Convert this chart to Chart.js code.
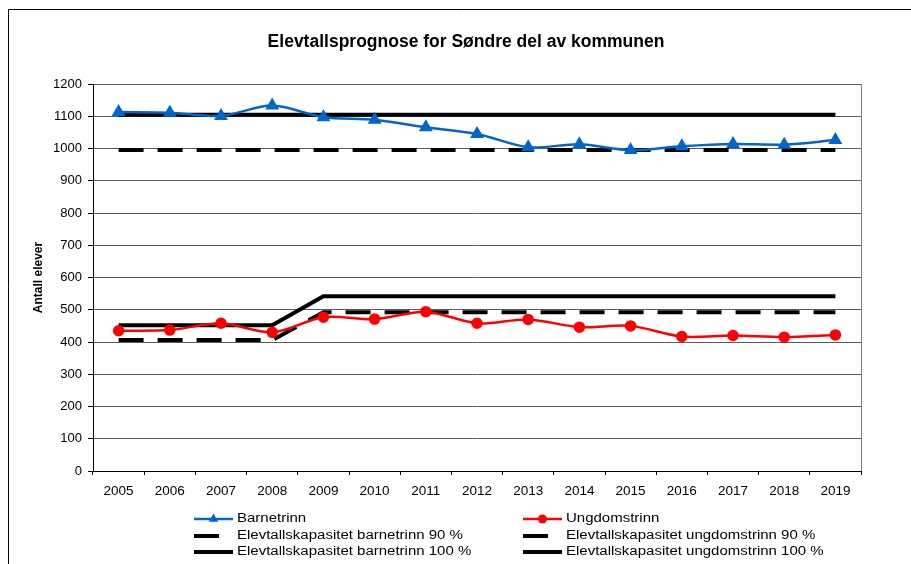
<!DOCTYPE html>
<html>
<head>
<meta charset="utf-8">
<script src="https://cdn.jsdelivr.net/npm/chart.js@4.4.0/dist/chart.umd.min.js"></script>
<style>
  html, body { margin: 0; padding: 0; background: #fff; overflow: hidden; }
</style>
</head>
<body>
<canvas id="myChart" width="911" height="564"></canvas>
<script>
const title = 'Elevtallsprognose for Søndre del av kommunen';
const years = ['2005', '2006', '2007', '2008', '2009', '2010', '2011', '2012', '2013', '2014', '2015', '2016', '2017', '2018', '2019'];
const barnetrinn = [1113, 1111, 1101, 1133, 1097, 1089, 1066, 1045, 1004, 1013, 995, 1007, 1014, 1012, 1026];
const ungdomstrinn = [435, 437, 458, 430, 477, 471, 494, 458, 470, 446, 450, 417, 420, 415, 422];
const kapBarn90 = [995, 995, 995, 995, 995, 995, 995, 995, 995, 995, 995, 995, 995, 995, 995];
const kapUng90 = [406, 406, 406, 406, 492, 492, 492, 492, 492, 492, 492, 492, 492, 492, 492];
const kapBarn100 = [1105, 1105, 1105, 1105, 1105, 1105, 1105, 1105, 1105, 1105, 1105, 1105, 1105, 1105, 1105];
const kapUng100 = [452, 452, 452, 452, 542, 542, 542, 542, 542, 542, 542, 542, 542, 542, 542];

const FONT = "'Liberation Sans', Arial, sans-serif";
const dash = [25, 14];

// frame round the whole chart, the title, and the right border of the plot
const framePlugin = {
  id: 'frame',
  beforeDraw(chart) {
    const { ctx } = chart;
    ctx.save();
    ctx.fillStyle = '#fff';
    ctx.fillRect(0, 0, chart.width, chart.height);
    ctx.strokeStyle = '#000';
    ctx.lineWidth = 1;
    ctx.beginPath();
    ctx.moveTo(8.5, chart.height);
    ctx.lineTo(8.5, 9.5);
    ctx.lineTo(chart.width, 9.5);
    ctx.stroke();
    ctx.fillStyle = '#000';
    ctx.font = `bold 17.5px ${FONT}`;
    ctx.textAlign = 'center';
    ctx.textBaseline = 'middle';
    ctx.fillText(title, 466, 42);
    ctx.restore();
  },
  afterDraw(chart) {
    const { ctx, chartArea: a } = chart;
    ctx.save();
    ctx.strokeStyle = '#808080';
    ctx.lineWidth = 1;
    ctx.beginPath();
    ctx.moveTo(Math.round(a.right) + 0.5, a.top);
    ctx.lineTo(Math.round(a.right) + 0.5, a.bottom);
    ctx.stroke();
    ctx.restore();
  },
};

// two-column legend under the plot, like the Excel one
const legendPlugin = {
  id: 'twoColLegend',
  afterDraw(chart) {
    const { ctx, chartArea: a } = chart;
    const cols = [194, 523];
    const rows = [a.bottom + 48, a.bottom + 65, a.bottom + 81];
    chart.data.datasets.forEach((ds, i) => {
      const x = cols[i % 2];
      const y = rows[Math.floor(i / 2)];
      ctx.save();
      ctx.strokeStyle = ds.borderColor;
      ctx.lineWidth = ds.borderWidth;
      ctx.setLineDash(ds.borderDash || []);
      ctx.beginPath();
      ctx.moveTo(x, y);
      ctx.lineTo(x + 39, y);
      ctx.stroke();
      ctx.setLineDash([]);
      if (ds.pointRadius) {
        ctx.fillStyle = ds.pointBackgroundColor;
        ctx.strokeStyle = ds.pointBorderColor;
        ctx.lineWidth = 1;
        Chart.helpers.drawPoint(ctx, { pointStyle: ds.pointStyle, radius: ds.pointRadius, rotation: 0 }, x + 19.5, y);
      }
      ctx.translate(x + 43, y);
      ctx.scale(1.25, 1);
      ctx.fillStyle = '#000';
      ctx.font = `12px ${FONT}`;
      ctx.textBaseline = 'middle';
      ctx.fillText(ds.label, 0, 0);
      ctx.restore();
    });
  },
};

const ctx = document.getElementById('myChart').getContext('2d');
new Chart(ctx, {
  type: 'line',
  data: {
    labels: years,
    datasets: [
      {
        label: 'Barnetrinn',
        data: barnetrinn,
        borderColor: '#0066CC',
        backgroundColor: '#0066CC',
        pointBackgroundColor: '#0066CC',
        pointBorderColor: '#0066CC',
        borderWidth: 2.5,
        pointStyle: 'triangle',
        pointRadius: 5.5,
        tension: 0.3,
      },
      {
        label: 'Ungdomstrinn',
        data: ungdomstrinn,
        borderColor: '#FF0000',
        backgroundColor: '#FF0000',
        pointBackgroundColor: '#FF0000',
        pointBorderColor: '#FF0000',
        borderWidth: 2.5,
        pointStyle: 'circle',
        pointRadius: 4.5,
        tension: 0.3,
      },
      {
        label: 'Elevtallskapasitet barnetrinn 90 %',
        data: kapBarn90,
        borderColor: '#000',
        borderWidth: 4,
        borderDash: dash,
        pointRadius: 0,
      },
      {
        label: 'Elevtallskapasitet ungdomstrinn 90 %',
        data: kapUng90,
        borderColor: '#000',
        borderWidth: 4,
        borderDash: dash,
        pointRadius: 0,
      },
      {
        label: 'Elevtallskapasitet barnetrinn 100 %',
        data: kapBarn100,
        borderColor: '#000',
        borderWidth: 4,
        pointRadius: 0,
      },
      {
        label: 'Elevtallskapasitet ungdomstrinn 100 %',
        data: kapUng100,
        borderColor: '#000',
        borderWidth: 4,
        pointRadius: 0,
      },
    ],
  },
  options: {
    responsive: false,
    animation: false,
    devicePixelRatio: 1,
    layout: { padding: { left: 28, right: 50, top: 84, bottom: 0 } },
    plugins: {
      legend: { display: false },
      tooltip: { enabled: false },
      title: { display: false },
    },
    scales: {
      x: {
        offset: true,
        afterFit(s) { s.height = 93; },
        grid: { offset: true, drawOnChartArea: false, color: '#000', tickLength: 4 },
        border: { color: '#000', width: 1 },
        ticks: { color: '#000', font: { family: FONT, size: 13.5 }, padding: 8, maxRotation: 0, autoSkip: false },
      },
      y: {
        min: 0,
        max: 1200,
        afterFit(s) { s.width = 65; },
        grid: { color: '#5a5a5a', tickColor: '#000', tickLength: 5 },
        border: { color: '#000', width: 1 },
        ticks: { stepSize: 100, color: '#000', font: { family: FONT, size: 13 }, padding: 6, callback: v => String(v) },
        title: {
          display: true,
          text: 'Antall elever',
          color: '#000',
          font: { family: FONT, size: 12, weight: 'bold' },
          padding: { top: 3, bottom: 0 },
        },
      },
    },
  },
  plugins: [framePlugin, legendPlugin],
});
</script>
</body>
</html>
